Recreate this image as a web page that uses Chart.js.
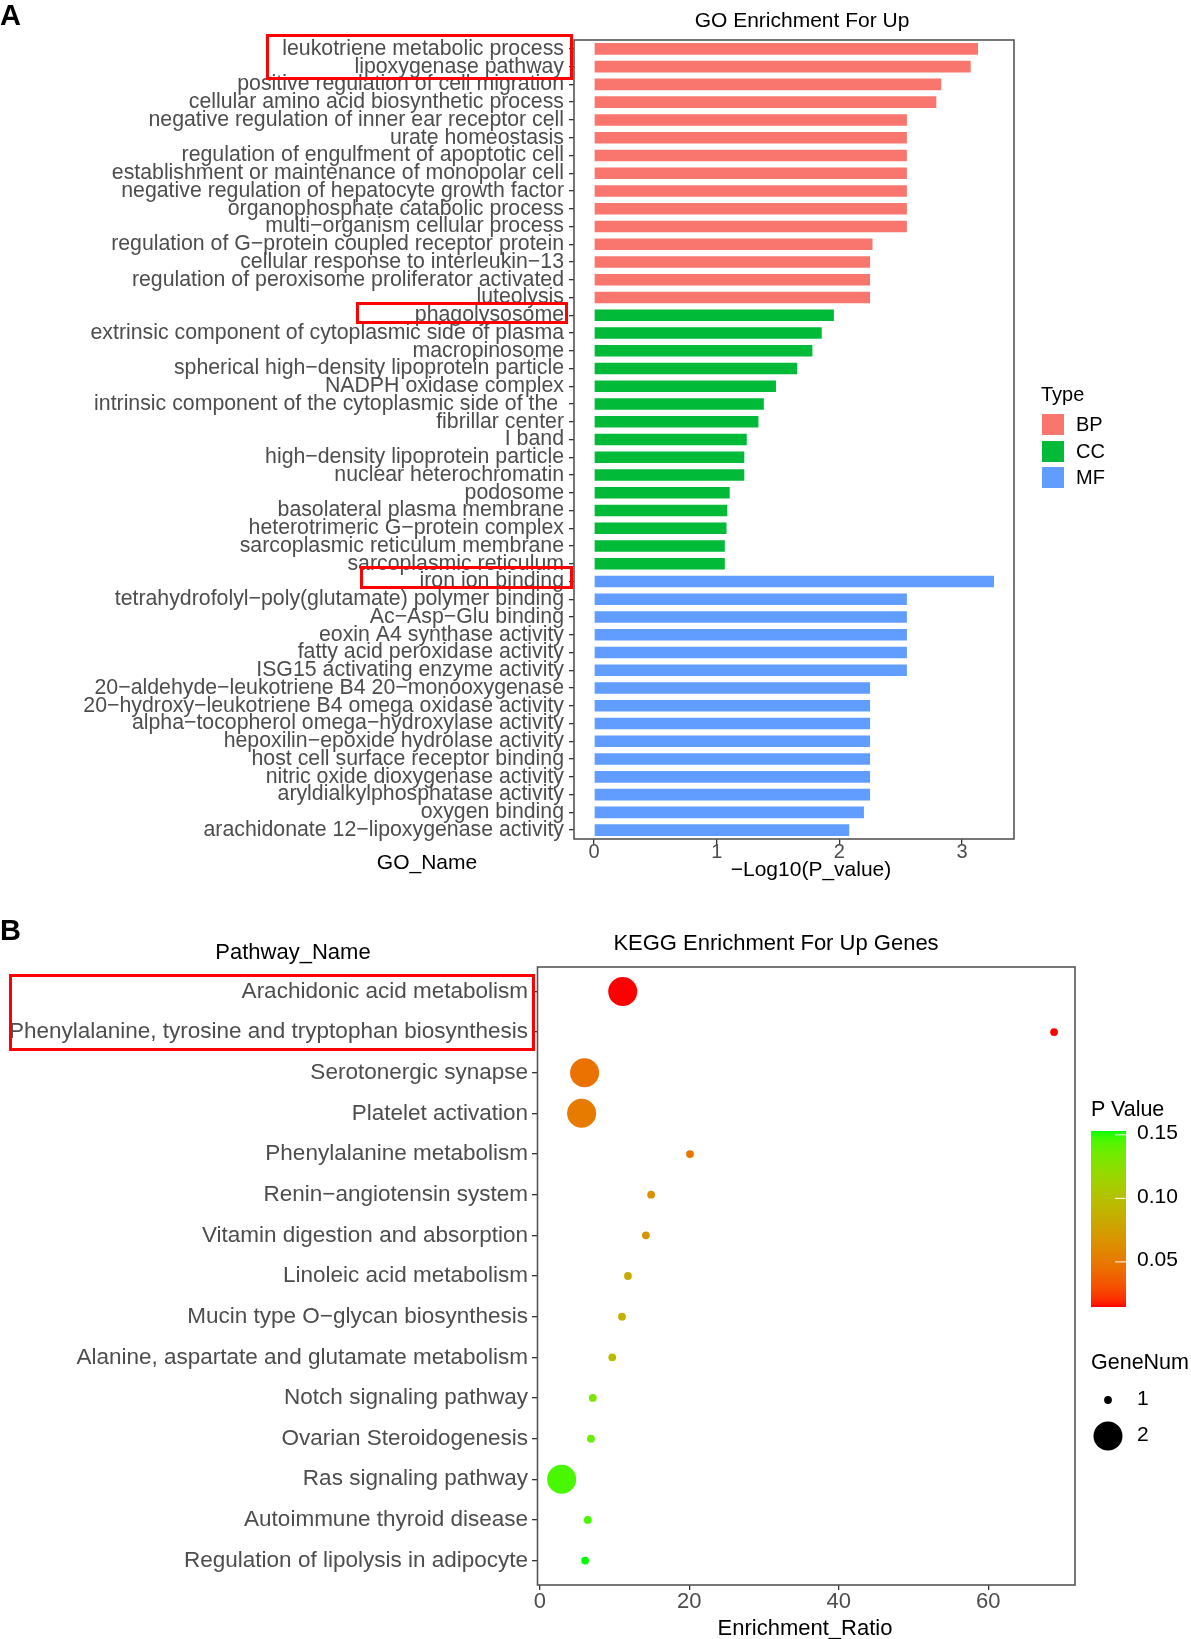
<!DOCTYPE html>
<html>
<head>
<meta charset="utf-8">
<script src="https://cdn.jsdelivr.net/npm/chart.js@4.4.0/dist/chart.umd.min.js"></script>
<style>
  html, body { margin:0; padding:0; background:#fff; }
  body { width:1191px; height:1639px; position:relative; overflow:hidden; font-family:"Liberation Sans", Arial, sans-serif; }
  canvas { position:absolute; }
  .t { position:absolute; white-space:pre; }
  .box { position:absolute; border:3px solid #FF0000; box-sizing:border-box; }
</style>
</head>
<body>
<canvas id="chartA" width="1191" height="900" style="left:0;top:0;width:1191px;height:900px"></canvas>
<canvas id="chartB" width="1191" height="739" style="left:0;top:900px;width:1191px;height:739px"></canvas>
<canvas id="cbar" width="35" height="176" style="left:1091px;top:1131px;width:35px;height:176px"></canvas>
<canvas id="sizeLeg" width="60" height="80" style="left:1078px;top:1380px;width:60px;height:80px"></canvas>
<script>
// ---------------- DATA ----------------
const goNames = [
  "leukotriene metabolic process",
  "lipoxygenase pathway",
  "positive regulation of cell migration",
  "cellular amino acid biosynthetic process",
  "negative regulation of inner ear receptor cell",
  "urate homeostasis",
  "regulation of engulfment of apoptotic cell",
  "establishment or maintenance of monopolar cell",
  "negative regulation of hepatocyte growth factor",
  "organophosphate catabolic process",
  "multi\u2212organism cellular process",
  "regulation of G\u2212protein coupled receptor protein",
  "cellular response to interleukin\u221213",
  "regulation of peroxisome proliferator activated",
  "luteolysis",
  "phagolysosome",
  "extrinsic component of cytoplasmic side of plasma",
  "macropinosome",
  "spherical high\u2212density lipoprotein particle",
  "NADPH oxidase complex",
  "intrinsic component of the cytoplasmic side of the ",
  "fibrillar center",
  "I band",
  "high\u2212density lipoprotein particle",
  "nuclear heterochromatin",
  "podosome",
  "basolateral plasma membrane",
  "heterotrimeric G\u2212protein complex",
  "sarcoplasmic reticulum membrane",
  "sarcoplasmic reticulum",
  "iron ion binding",
  "tetrahydrofolyl\u2212poly(glutamate) polymer binding",
  "Ac\u2212Asp\u2212Glu binding",
  "eoxin A4 synthase activity",
  "fatty acid peroxidase activity",
  "ISG15 activating enzyme activity",
  "20\u2212aldehyde\u2212leukotriene B4 20\u2212monooxygenase",
  "20\u2212hydroxy\u2212leukotriene B4 omega oxidase activity",
  "alpha\u2212tocopherol omega\u2212hydroxylase activity",
  "hepoxilin\u2212epoxide hydrolase activity",
  "host cell surface receptor binding",
  "nitric oxide dioxygenase activity",
  "aryldialkylphosphatase activity",
  "oxygen binding",
  "arachidonate 12\u2212lipoxygenase activity"
];
const goTypes = [
  "BP","BP","BP","BP","BP","BP","BP","BP","BP","BP","BP","BP","BP","BP","BP",
  "CC","CC","CC","CC","CC","CC","CC","CC","CC","CC","CC","CC","CC","CC","CC",
  "MF","MF","MF","MF","MF","MF","MF","MF","MF","MF","MF","MF","MF","MF","MF"
];
const goLogP = [
  3.13, 3.07, 2.83, 2.79, 2.55, 2.55, 2.55, 2.55, 2.55, 2.55, 2.55, 2.27, 2.25, 2.25, 2.25,
  1.955, 1.856, 1.78, 1.656, 1.483, 1.384, 1.34, 1.245, 1.225, 1.225, 1.106, 1.086, 1.08, 1.066, 1.066,
  3.26, 2.55, 2.55, 2.55, 2.55, 2.55, 2.25, 2.25, 2.25, 2.25, 2.25, 2.25, 2.25, 2.20, 2.08
];
const goTicks = [0, 1, 2, 3];
const typeNames = ["BP", "CC", "MF"];

const keggNames = [
  "Arachidonic acid metabolism",
  "Phenylalanine, tyrosine and tryptophan biosynthesis",
  "Serotonergic synapse",
  "Platelet activation",
  "Phenylalanine metabolism",
  "Renin\u2212angiotensin system",
  "Vitamin digestion and absorption",
  "Linoleic acid metabolism",
  "Mucin type O\u2212glycan biosynthesis",
  "Alanine, aspartate and glutamate metabolism",
  "Notch signaling pathway",
  "Ovarian Steroidogenesis",
  "Ras signaling pathway",
  "Autoimmune thyroid disease",
  "Regulation of lipolysis in adipocyte"
];
const keggRatio = [11.1, 68.8, 6.0, 5.6, 20.1, 14.9, 14.2, 11.8, 11.0, 9.7, 7.1, 6.85, 2.93, 6.43, 6.07];
const keggGeneNum = [2, 1, 2, 2, 1, 1, 1, 1, 1, 1, 1, 1, 2, 1, 1];
const keggPValue = [0.0145, 0.0146, 0.046, 0.052, 0.049, 0.065, 0.068, 0.083, 0.087, 0.098, 0.131, 0.139, 0.146, 0.147, 0.153];
const keggTicks = [0, 20, 40, 60];
const pTicks = [0.05, 0.10, 0.15];
const pTickLabels = ["0.05", "0.10", "0.15"];
const geneNumLevels = [1, 2];

// ---------------- STYLE ----------------
const FONT = '"Liberation Sans", Arial, sans-serif';
const typeColors = { BP: "#F8766D", CC: "#00BA38", MF: "#619CFF" };
const axisText = "#4D4D4D";
const tickCol = "#333333";
const pMin = Math.min(...keggPValue), pMax = Math.max(...keggPValue);
const sizeR = { 1: 3.9, 2: 14.5 };

// Lab interpolation red -> green (like ggplot2 scale_colour_gradient)
function lin(c){ c/=255; return c<=0.04045 ? c/12.92 : Math.pow((c+0.055)/1.055, 2.4); }
function unlin(c){ const v = c<=0.0031308 ? 12.92*c : 1.055*Math.pow(c,1/2.4)-0.055; return Math.round(Math.max(0,Math.min(1,v))*255); }
function rgb2lab(rgb){
  const R=lin(rgb[0]),G=lin(rgb[1]),B=lin(rgb[2]);
  let X=(0.4124564*R+0.3575761*G+0.1804375*B)/0.95047;
  let Y=(0.2126729*R+0.7151522*G+0.0721750*B);
  let Z=(0.0193339*R+0.1191920*G+0.9503041*B)/1.08883;
  const f=t=> t>0.008856 ? Math.cbrt(t) : 7.787*t+16/116;
  const fx=f(X),fy=f(Y),fz=f(Z);
  return [116*fy-16, 500*(fx-fy), 200*(fy-fz)];
}
function lab2rgb(lab){
  const fy=(lab[0]+16)/116, fx=fy+lab[1]/500, fz=fy-lab[2]/200;
  const fi=t=> t*t*t>0.008856 ? t*t*t : (t-16/116)/7.787;
  const X=fi(fx)*0.95047, Y=fi(fy), Z=fi(fz)*1.08883;
  const R= 3.2404542*X-1.5371385*Y-0.4985314*Z;
  const G=-0.9692660*X+1.8760108*Y+0.0415560*Z;
  const B= 0.0556434*X-0.2040259*Y+1.0572252*Z;
  return [unlin(R),unlin(G),unlin(B)];
}
const labLow = rgb2lab([255,0,0]), labHigh = rgb2lab([0,255,0]);
function colorAt(t){
  t=Math.max(0,Math.min(1,t));
  const l=[0,1,2].map(i=>labLow[i]+(labHigh[i]-labLow[i])*t);
  const c=lab2rgb(l);
  return `rgb(${c[0]},${c[1]},${c[2]})`;
}
function pColor(p){ return colorAt((p-pMin)/(pMax-pMin)); }

// panel border plugin
const frame = {
  id:'frame',
  afterDraw(chart){
    const a=chart.chartArea, ctx=chart.ctx;
    ctx.save(); ctx.strokeStyle='#555'; ctx.lineWidth=1.6;
    ctx.strokeRect(a.left, a.top, a.right-a.left, a.bottom-a.top);
    ctx.restore();
  }
};

// ---------------- PANEL A ----------------
new Chart(document.getElementById('chartA'), {
  type:'bar',
  data:{ labels: goNames, datasets:[{
    data: goLogP,
    backgroundColor: goTypes.map(t=>typeColors[t]),
    borderWidth:0, barPercentage:0.65, categoryPercentage:1
  }]},
  options:{
    indexAxis:'y', responsive:false, animation:false, devicePixelRatio:1,
    layout:{ padding:{ top:40, right:177, left:0, bottom:0 } },
    plugins:{ legend:{display:false}, tooltip:{enabled:false} },
    scales:{
      x:{ type:'linear', min:-0.163, max:3.423,
          afterBuildTicks: s=>{ s.ticks = goTicks.map(v=>({value:v})); },
          afterFit: s=>{ s.height = 61; },
          grid:{ drawOnChartArea:false, drawTicks:true, tickLength:5, color:tickCol, lineWidth:1.3 },
          border:{ display:false },
          ticks:{ font:{ family:FONT, size:20 }, color:axisText, padding:-4, maxRotation:0 } },
      y:{ type:'category', offset:true,
          afterFit: s=>{ s.width = 574; },
          grid:{ drawOnChartArea:false, drawTicks:true, tickLength:5, color:tickCol, lineWidth:1.3, offset:false },
          border:{ display:false },
          ticks:{ font:{ family:FONT, size:21.3 }, color:axisText, padding:5, autoSkip:false } }
    }
  },
  plugins:[frame]
});

// ---------------- PANEL B ----------------
new Chart(document.getElementById('chartB'), {
  type:'bubble',
  data:{ datasets:[{
    data: keggNames.map((n,i)=>({ x: keggRatio[i], y: i, r: sizeR[keggGeneNum[i]] })),
    backgroundColor: keggPValue.map(p=>pColor(p)),
    borderWidth:0, hoverRadius:0
  }]},
  options:{
    responsive:false, animation:false, devicePixelRatio:1,
    layout:{ padding:{ top:67, right:116, left:0, bottom:0 } },
    plugins:{ legend:{display:false}, tooltip:{enabled:false} },
    scales:{
      x:{ type:'linear', min:-0.3, max:71.6,
          afterBuildTicks: s=>{ s.ticks = keggTicks.map(v=>({value:v})); },
          afterFit: s=>{ s.height = 54; },
          grid:{ drawOnChartArea:false, drawTicks:true, tickLength:5, color:tickCol, lineWidth:1.3 },
          border:{ display:false },
          ticks:{ font:{ family:FONT, size:22 }, color:axisText, padding:-1, maxRotation:0 } },
      y:{ type:'linear', reverse:true, min:-0.6, max:keggNames.length-1+0.6,
          afterBuildTicks: s=>{ s.ticks = keggNames.map((n,i)=>({value:i})); },
          afterFit: s=>{ s.width = 537.5; },
          grid:{ drawOnChartArea:false, drawTicks:true, tickLength:5.5, color:tickCol, lineWidth:1.3 },
          border:{ display:false },
          ticks:{ font:{ family:FONT, size:22.5 }, color:axisText, padding:4, autoSkip:false,
                  callback: v => keggNames[v] } }
    }
  },
  plugins:[frame]
});

// ---------------- colour bar ----------------
(function(){
  const c=document.getElementById('cbar'), ctx=c.getContext('2d');
  const H=c.height, W=c.width;
  for(let y=0;y<H;y++){
    ctx.fillStyle=colorAt(1 - y/(H-1));
    ctx.fillRect(0,y,W,1);
  }
  ctx.strokeStyle='#fff'; ctx.lineWidth=1;
  pTicks.forEach(v=>{
    const y = H - (v-pMin)/(pMax-pMin)*H;
    ctx.beginPath(); ctx.moveTo(W-11,y); ctx.lineTo(W,y); ctx.stroke();
  });
})();

// size legend
(function(){
  const c=document.getElementById('sizeLeg'), ctx=c.getContext('2d');
  ctx.fillStyle='#000';
  const ys=[20,56];
  geneNumLevels.forEach((g,i)=>{
    ctx.beginPath(); ctx.arc(30, ys[i], sizeR[g], 0, Math.PI*2); ctx.fill();
  });
})();

// ---------------- text ----------------
function text(str, x, baseline, size, opts={}){
  const d=document.createElement('div');
  d.className='t';
  d.textContent=str;
  d.style.fontSize=size+'px';
  d.style.lineHeight=size+'px';
  d.style.fontWeight=opts.bold?'bold':'normal';
  d.style.color=opts.color||'#000';
  d.style.top=(baseline-0.8465*size)+'px';
  d.style.left=x+'px';
  if(opts.align==='center') d.style.transform='translateX(-50%)';
  document.body.appendChild(d);
}
text("A", 0, 26, 29, {bold:true});
text("GO Enrichment For Up", 802, 27, 21, {align:'center'});
text("GO_Name", 427, 869, 21, {align:'center'});
text("\u2212Log10(P_value)", 811, 876, 21, {align:'center'});
text("Type", 1041, 401, 20);
typeNames.forEach((t,i)=>{
  const k=document.createElement('div');
  k.style.cssText=`position:absolute;left:1042px;top:${414+i*26.7}px;width:22px;height:21px;background:${typeColors[t]}`;
  document.body.appendChild(k);
  text(t, 1076, 431+i*26.7, 20);
});

text("B", 0, 941, 29, {bold:true});
text("KEGG Enrichment For Up Genes", 776, 951, 22, {align:'center'});
text("Pathway_Name", 293, 960, 22, {align:'center'});
text("Enrichment_Ratio", 805, 1636, 22, {align:'center'});
text("P Value", 1091, 1117, 21.5);
pTicks.forEach((v,i)=>{
  const y = 1131 + 176 - (v-pMin)/(pMax-pMin)*176;
  text(pTickLabels[i], 1137, y+4, 21);
});
text("GeneNum", 1091, 1370, 21.5);
geneNumLevels.forEach((g,i)=>{ text(String(g), 1137, [1400,1436][i]+5, 21); });

// ---------------- highlight boxes ----------------
[[266,34,307,46],[356,302,212,22],[360,566,213,23],[9,974,526,77]].forEach(b=>{
  const d=document.createElement('div'); d.className='box';
  d.style.left=b[0]+'px'; d.style.top=b[1]+'px'; d.style.width=b[2]+'px'; d.style.height=b[3]+'px';
  document.body.appendChild(d);
});
</script>
</body>
</html>
